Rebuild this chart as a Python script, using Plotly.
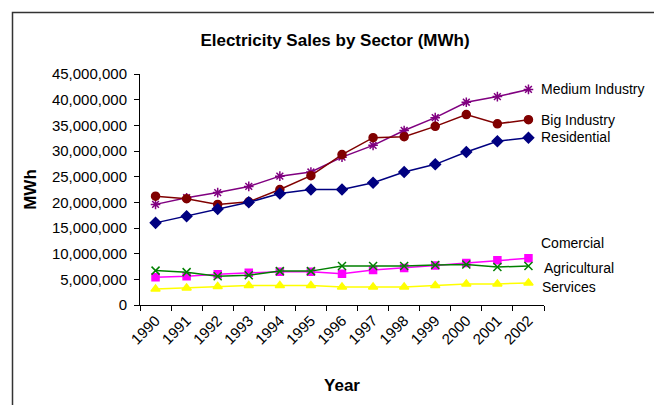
import plotly.graph_objects as go

years = ["1990", "1991", "1992", "1993", "1994", "1995", "1996",
         "1997", "1998", "1999", "2000", "2001", "2002"]

medium_industry = [19.6, 20.9, 21.9, 23.1, 25.1, 25.9, 28.8, 31.1, 34.0, 36.5, 39.5, 40.6, 42.0]
big_industry    = [21.2, 20.7, 19.6, 20.1, 22.5, 25.2, 29.3, 32.6, 32.8, 34.8, 37.1, 35.3, 36.1]
residential     = [16.0, 17.3, 18.7, 20.0, 21.7, 22.5, 22.5, 23.8, 25.9, 27.4, 29.8, 31.9, 32.6]
comercial       = [5.4, 5.6, 6.0, 6.3, 6.5, 6.5, 6.1, 6.8, 7.2, 7.7, 8.2, 8.7, 9.1]
agricultural    = [6.7, 6.4, 5.6, 5.8, 6.6, 6.6, 7.6, 7.6, 7.6, 7.8, 7.9, 7.4, 7.6]
services        = [3.1, 3.3, 3.6, 3.8, 3.8, 3.8, 3.5, 3.5, 3.5, 3.8, 4.1, 4.1, 4.3]

series = [
    ("Medium Industry", medium_industry, "#800080", "asterisk-open", 8),
    ("Big Industry", big_industry, "#800000", "circle", 8),
    ("Residential", residential, "#000080", "diamond", 8),
    ("Comercial", comercial, "#FF00FF", "square", 7),
    ("Agricultural", agricultural, "#008000", "x-thin-open", 8),
    ("Services", services, "#FFFF00", "triangle-up", 8),
]

# label pixel positions (x, y) in the 654x405 frame
label_pos = {
    "Medium Industry": (539, 89),
    "Big Industry": (539, 120),
    "Residential": (539, 137),
    "Comercial": (539, 243),
    "Agricultural": (542, 268),
    "Services": (540, 287),
}

FONT = "Liberation Sans, Arial, sans-serif"
W, H = 654, 405
L, R, T, B = 140, 110, 74, 100
pw, ph = W - L - R, H - T - B

def px(x):
    return (x - L) / pw

def py(y):
    return (H - B - y) / ph

fig = go.Figure()
for name, vals, color, sym, size in series:
    fig.add_trace(go.Scatter(
        x=years, y=[v * 1e6 for v in vals], name=name, mode="lines+markers",
        line=dict(color=color, width=1.5),
        marker=dict(symbol=sym, size=size, color=color,
                    line=dict(color=color, width=1.5)),
        showlegend=False,
    ))

annotations = []
for name, (x, y) in label_pos.items():
    annotations.append(dict(
        text=name, xref="paper", yref="paper", x=px(x), y=py(y),
        xanchor="left", yanchor="middle", showarrow=False,
        font=dict(family=FONT, size=14, color="black"),
    ))

fig.update_layout(
    width=W, height=H,
    margin=dict(l=L, r=R, t=T, b=B),
    paper_bgcolor="white", plot_bgcolor="white",
    font=dict(family=FONT, color="black"),
    title=dict(text="<b>Electricity Sales by Sector (MWh)</b>",
               x=335 / W, xanchor="center", y=1 - 40 / H, yanchor="middle",
               font=dict(size=17, color="black", family=FONT)),
    annotations=annotations,
    shapes=[dict(type="rect", xref="paper", yref="paper",
                 x0=px(12.5), x1=px(700), y0=py(12.5), y1=py(450),
                 line=dict(color="#333333", width=1.5))],
)

fig.update_xaxes(
    type="category", range=[-0.5, 12.5], tickson="boundaries",
    showline=True, linecolor="black", linewidth=1,
    ticks="outside", ticklen=5, tickcolor="black",
    tickangle=-45, tickfont=dict(size=15, family=FONT),
    showgrid=False, zeroline=False,
    title=dict(text="<b>Year</b>", font=dict(size=17, family=FONT), standoff=32),
)
fig.update_yaxes(
    range=[0, 45e6], tickvals=[i * 5e6 for i in range(10)],
    tickformat=",d", showline=True, linecolor="black", linewidth=1,
    ticks="outside", ticklen=5, tickcolor="black",
    tickfont=dict(size=15, family=FONT), showgrid=False, zeroline=False,
    ticklabelstandoff=4,
    title=dict(text="<b>MWh</b>", font=dict(size=17, family=FONT), standoff=10),
)

fig.write_html("out.html")
